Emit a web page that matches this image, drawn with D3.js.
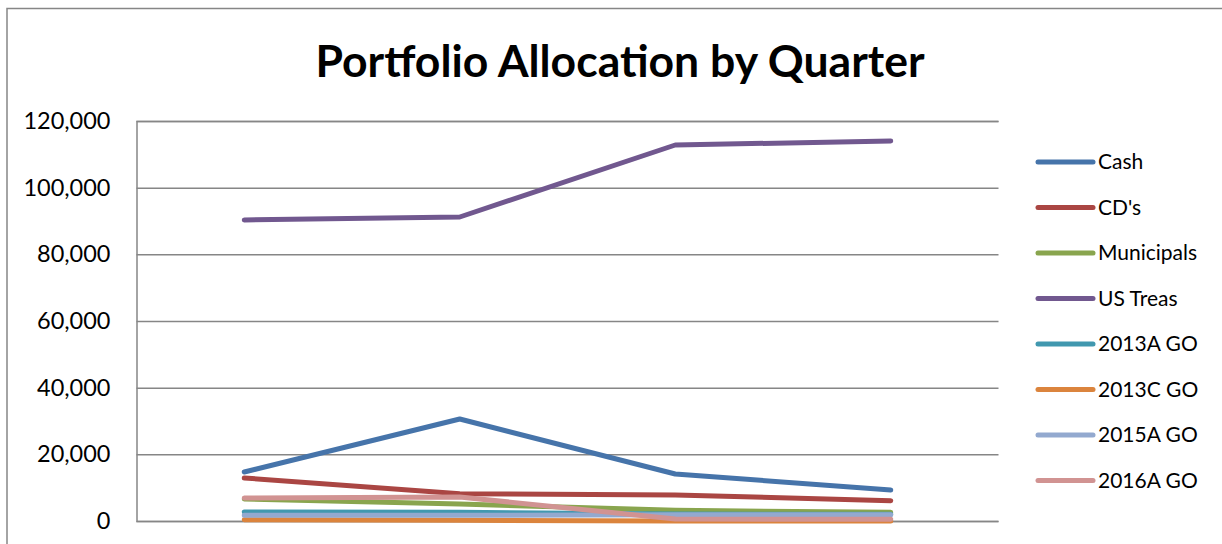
<!DOCTYPE html>
<head>
  <meta charset="UTF-8">
  <script src="https://d3js.org/d3.v7.min.js"></script>
  <style>
    body { margin: 0; background: #fff; }
    text { font-family: Lato, "Open Sans", sans-serif; fill: #000; }
  </style>
</head>
<body>
<div id="my_dataviz"></div>
<script>
  // data
  var quarters = ["Q1", "Q2", "Q3", "Q4"];
  var seriesNames = ["Cash", "CD's", "Municipals", "US Treas", "2013A GO", "2013C GO", "2015A GO", "2016A GO"];
  var cash      = [14700, 30600, 14100, 9300];
  var cds       = [12900, 8200, 7800, 6100];
  var munis     = [6600, 5100, 3200, 2600];
  var usTreas   = [90300, 91200, 112800, 114000];
  var go2013A   = [2700, 2600, 2100, 2000];
  var go2013C   = [400, 200, 0, 0];
  var go2015A   = [1700, 1700, 1900, 1900];
  var go2016A   = [6900, 7200, 600, 500];
  var yTicks = [0, 20000, 40000, 60000, 80000, 100000, 120000];
  var colors = ["#4674AA", "#AA4643", "#89A54E", "#71588F", "#4198AF", "#DB843D", "#93A9CF", "#D19392"];

  var allValues = [cash, cds, munis, usTreas, go2013A, go2013C, go2015A, go2016A];
  var series = seriesNames.map(function (name, i) {
    return { name: name, color: colors[i], values: allValues[i] };
  });

  var W = 1222, H = 544;
  var margin = { top: 121, right: 224, bottom: 23, left: 136.5 };

  var svg = d3.select("#my_dataviz").append("svg")
    .attr("width", W)
    .attr("height", H);

  // outer chart border
  svg.append("rect")
    .attr("x", 7).attr("y", 8.5)
    .attr("width", W + 20).attr("height", H + 20)
    .attr("fill", "none")
    .attr("stroke", "#868686")
    .attr("stroke-width", 1.5);

  // title
  svg.append("text")
    .attr("x", 620)
    .attr("y", 77)
    .attr("text-anchor", "middle")
    .style("font-size", "44.5px")
    .style("font-weight", "bold")
    .text("Portfolio Allocation by Quarter");

  var x = d3.scalePoint()
    .domain(quarters)
    .range([margin.left, W - margin.right + 0.5])
    .padding(0.5);

  var y = d3.scaleLinear()
    .domain([0, 120000])
    .range([H - margin.bottom, margin.top]);

  // y axis with gridlines
  var yAxis = svg.append("g")
    .attr("transform", "translate(" + margin.left + ",0)")
    .call(d3.axisLeft(y)
      .tickValues(yTicks)
      .tickSize(-(W - margin.right + 0.5 - margin.left))
      .tickPadding(26)
      .tickFormat(d3.format(",")));
  yAxis.select(".domain").attr("stroke", "#868686").attr("stroke-width", 1.5);
  yAxis.selectAll(".tick line").attr("stroke", "#868686").attr("stroke-width", 1.5);
  yAxis.selectAll(".tick text")
    .style("font-size", "23.5px")
    .style("font-family", "Lato, 'Open Sans', sans-serif")
    .attr("fill", "#000");

  // lines
  var line = d3.line()
    .x(function (d, i) { return x(quarters[i]); })
    .y(function (d) { return y(d); });

  svg.append("g").selectAll("path")
    .data(series)
    .enter()
    .append("path")
    .attr("d", function (d) { return line(d.values); })
    .attr("fill", "none")
    .attr("stroke", function (d) { return d.color; })
    .attr("stroke-width", 5)
    .attr("stroke-linecap", "round")
    .attr("stroke-linejoin", "round");

  // legend
  var legend = svg.append("g").selectAll("g")
    .data(series)
    .enter()
    .append("g")
    .attr("transform", function (d, i) { return "translate(1038," + (162 + i * 45.5) + ")"; });

  legend.append("line")
    .attr("x1", 0).attr("x2", 55)
    .attr("stroke", function (d) { return d.color; })
    .attr("stroke-width", 5)
    .attr("stroke-linecap", "round");

  legend.append("text")
    .attr("x", 60)
    .attr("dy", "0.35em")
    .style("font-size", "21px")
    .text(function (d) { return d.name; });
</script>
</body>
